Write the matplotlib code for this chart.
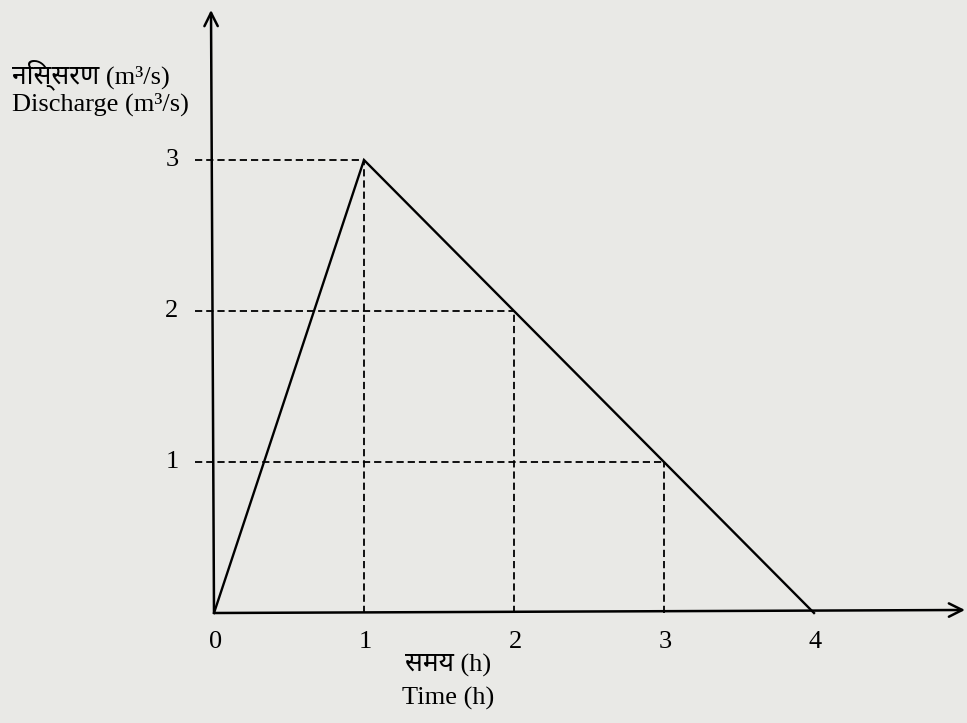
import matplotlib
matplotlib.use("Agg")
import matplotlib.pyplot as plt

# triangular hydrograph
time_h = [0, 1, 4]
discharge = [0, 3, 0]

# dashed guide points on the falling/rising limb
guide_t = [1, 2, 3]
guide_q = [3, 2, 1]

x_ticks = [0, 1, 2, 3, 4]
y_ticks = [1, 2, 3]

ylabel_hi = "निस्सरण (m³/s)"
ylabel_en = "Discharge (m³/s)"
xlabel_hi = "समय (h)"
xlabel_en = "Time (h)"

fonts = ["Liberation Serif", "Noto Sans", "DejaVu Sans"]
paper = "#e9e9e6"

fig = plt.figure(figsize=(9.67, 7.23), dpi=100, facecolor=paper)
ax = fig.add_axes([214 / 967, 1 - 613 / 723, 751 / 967, 603 / 723])
ax.set_facecolor(paper)
ax.set_xlim(0, 751 / 150)
ax.set_ylim(0, 603 / 151)
ax.axis("off")

# axes with arrow heads (scan is a touch skewed)
ax.annotate("", xy=(751 / 150, 0.02), xytext=(0, 0),
            arrowprops=dict(arrowstyle="->", lw=1.8, color="black",
                            mutation_scale=24, shrinkA=0, shrinkB=0),
            annotation_clip=False)
ax.annotate("", xy=(-0.02, 603 / 151), xytext=(0, 0),
            arrowprops=dict(arrowstyle="->", lw=1.8, color="black",
                            mutation_scale=24, shrinkA=0, shrinkB=0),
            annotation_clip=False)

# dashed guides
for t, q in zip(guide_t, guide_q):
    ax.plot([-0.13, t], [q, q], color="black", lw=1.3, ls=(0, (4, 2.2)), clip_on=False)
    ax.plot([t, t], [0, q], color="black", lw=1.3, ls=(0, (4, 2.2)), clip_on=False)

# hydrograph
ax.plot(time_h, discharge, color="black", lw=1.7, solid_joinstyle="miter", clip_on=False)

# tick labels
for t in x_ticks:
    ax.text(t + 0.01, -0.19, str(t), ha="center", va="center", fontsize=19, family=fonts)
for q in y_ticks:
    ax.text(-0.28, q, str(q), ha="center", va="center", fontsize=19, family=fonts)

# axis titles
fig.text(12 / 967, 1 - 75 / 723, ylabel_hi, ha="left", va="center", fontsize=19, family=fonts)
fig.text(12 / 967, 1 - 104 / 723, ylabel_en, ha="left", va="center", fontsize=19, family=fonts)
fig.text(448 / 967, 1 - 665 / 723, xlabel_hi, ha="center", va="center", fontsize=19, family=fonts)
fig.text(448 / 967, 1 - 698 / 723, xlabel_en, ha="center", va="center", fontsize=19, family=fonts)

fig.savefig("out.png", dpi=100, facecolor=paper)
